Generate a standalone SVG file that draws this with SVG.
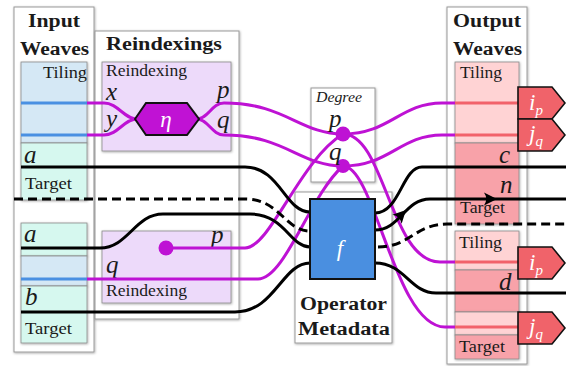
<svg xmlns="http://www.w3.org/2000/svg" width="566" height="366" viewBox="0 0 566 366">
<defs>
<filter id="sh" x="-10%" y="-10%" width="120%" height="120%"><feDropShadow dx="0.6" dy="0.8" stdDeviation="0.8" flood-color="#000" flood-opacity="0.35"/></filter>
<path id="arr" d="M0,0 L-13,-6.5 Q-8.5,0 -13,6.5 Z" fill="#000"/>
<style>
.box{fill:#fff;stroke:#9a9a9a;stroke-width:1;filter:url(#sh)}
.sub{stroke:#8a8a8a;stroke-width:0.8;filter:url(#sh)}
.t{font-family:"Liberation Serif","DejaVu Serif",serif;fill:#1a1a1a}
.title{font-weight:bold;font-size:18px}
.lab{font-size:16px}
.var{font-style:italic;font-size:25px}
.w{fill:none;stroke:#000;stroke-width:3}
.m{fill:none;stroke:#BE12D4;stroke-width:3}
.blue{fill:#D5E8F5}
.teal{fill:#D6F8EF}
.lav{fill:#EDDAFA}
.lp{fill:#FFD3D4}
.dp{fill:#F8A2A9}
.bl{stroke:#4A90E2;stroke-width:3}
.rl{stroke:#F2626A;stroke-width:3}
.tag{fill:#F0636A;stroke:#111;stroke-width:1.6}
.tagt{font-family:"Liberation Serif","DejaVu Serif",serif;font-style:italic;fill:#fff;font-size:23px}
</style>
</defs>
<rect width="566" height="366" fill="#fff"/>

<!-- outer frames -->
<g id="input-weaves-frame">
<rect class="box" x="14" y="7" width="80" height="345"/>
<text class="t title" x="54" y="27" text-anchor="middle" textLength="52" lengthAdjust="spacingAndGlyphs">Input</text>
<text class="t title" x="54.5" y="55" text-anchor="middle" textLength="69" lengthAdjust="spacingAndGlyphs">Weaves</text>
</g>
<g id="reindexings-frame">
<rect class="box" x="95" y="31" width="144" height="288"/>
<text class="t title" x="164" y="50" text-anchor="middle" textLength="116" lengthAdjust="spacingAndGlyphs">Reindexings</text>
</g>
<g id="output-weaves-frame">
<rect class="box" x="447" y="7" width="80" height="357"/>
<text class="t title" x="487" y="27" text-anchor="middle" textLength="68" lengthAdjust="spacingAndGlyphs">Output</text>
<text class="t title" x="487.5" y="55" text-anchor="middle" textLength="69" lengthAdjust="spacingAndGlyphs">Weaves</text>
</g>
<g id="degree">
<rect class="box" x="311" y="88" width="64" height="94"/>
<text class="t" x="316" y="102" font-style="italic" font-size="15" textLength="46" lengthAdjust="spacingAndGlyphs">Degree</text>
</g>
<g id="operator-metadata">
<rect class="box" x="295" y="192" width="97" height="151"/>
<text class="t title" x="343.5" y="310" text-anchor="middle" textLength="87" lengthAdjust="spacingAndGlyphs">Operator</text>
<text class="t title" x="344" y="335" text-anchor="middle" textLength="92" lengthAdjust="spacingAndGlyphs">Metadata</text>
</g>

<!-- input weave 1 -->
<g id="input-weave-1">
<rect class="sub blue" x="21" y="62" width="66" height="81"/>
<rect class="sub teal" x="21" y="143" width="66" height="57"/>
<text class="t lab" x="43" y="78" textLength="44" lengthAdjust="spacingAndGlyphs">Tiling</text>
<text class="t lab" x="25" y="189" textLength="47" lengthAdjust="spacingAndGlyphs">Target</text>
<line class="bl" x1="21" y1="103" x2="87" y2="103"/>
<line class="bl" x1="21" y1="135" x2="87" y2="135"/>
<text class="t var" x="24" y="163">a</text>
</g>
<!-- input weave 2 -->
<g id="input-weave-2">
<rect class="sub teal" x="21" y="223" width="66" height="33"/>
<rect class="sub blue" x="21" y="256" width="66" height="30"/>
<rect class="sub teal" x="21" y="286" width="66" height="57"/>
<text class="t lab" x="25" y="334" textLength="47" lengthAdjust="spacingAndGlyphs">Target</text>
<line class="bl" x1="21" y1="279" x2="87" y2="279"/>
<text class="t var" x="24" y="242">a</text>
<text class="t var" x="25" y="305">b</text>
</g>

<!-- reindexing boxes -->
<g id="reindexing-1">
<rect class="sub lav" x="102" y="62" width="129" height="89"/>
<text class="t lab" x="106" y="76" textLength="81" lengthAdjust="spacingAndGlyphs">Reindexing</text>
<text class="t var" x="106" y="99.5" font-size="22">x</text>
<text class="t var" x="106" y="127">y</text>
<text class="t var" x="217" y="98">p</text>
<text class="t var" x="217" y="128">q</text>
</g>
<g id="reindexing-2">
<rect class="sub lav" x="102" y="231" width="129" height="72"/>
<text class="t lab" x="106" y="296" textLength="81" lengthAdjust="spacingAndGlyphs">Reindexing</text>
<text class="t var" x="211" y="243">p</text>
<text class="t var" x="106" y="273">q</text>
</g>

<!-- output weaves -->
<g id="output-weave-1">
<rect class="sub lp" x="455" y="62" width="64" height="81"/>
<rect class="sub dp" x="455" y="143" width="64" height="81"/>
<text class="t lab" x="460" y="78" textLength="42" lengthAdjust="spacingAndGlyphs">Tiling</text>
<text class="t lab" x="460" y="213" textLength="45" lengthAdjust="spacingAndGlyphs">Target</text>
<line class="rl" x1="455" y1="103" x2="519" y2="103"/>
<line class="rl" x1="455" y1="135" x2="519" y2="135"/>
<text class="t var" x="499" y="163">c</text>
<text class="t var" x="500" y="193">n</text>
</g>
<g id="output-weave-2">
<rect class="sub lp" x="455" y="231" width="64" height="39"/>
<rect class="sub dp" x="455" y="270" width="64" height="42"/>
<rect class="sub lp" x="455" y="312" width="64" height="23"/>
<rect class="sub dp" x="455" y="335" width="64" height="24"/>
<text class="t lab" x="459" y="248" textLength="43" lengthAdjust="spacingAndGlyphs">Tiling</text>
<text class="t lab" x="459" y="352" textLength="46" lengthAdjust="spacingAndGlyphs">Target</text>
<line class="rl" x1="455" y1="262" x2="519" y2="262"/>
<line class="rl" x1="455" y1="327" x2="519" y2="327"/>
<text class="t var" x="499" y="290">d</text>
</g>

<!-- connectors -->
<g id="connectors">
<path class="m" d="M87,103 H104 C118,103 124,119 137,119"/>
<path class="m" d="M87,135 H104 C118,135 124,119 137,119"/>
<path class="m" d="M197,119 C208,119 212,103 224,103 C285,103 300,134 343,134"/>
<path class="m" d="M197,119 C208,119 212,135 224,135 C285,135 300,166 343,166"/>
<path class="m" d="M343,134 C390,134 400,103 442,103 H455"/>
<path class="m" d="M343,166 C390,166 400,135 442,135 H455"/>
<path class="m" d="M343,134 C385,134 390,262 440,262 H455"/>
<path class="m" d="M343,166 C375,166 395,327 445,327 H455"/>
<path class="m" d="M166,248 H245 C270,248 300,160 343,134"/>
<path class="m" d="M87,279 H258 C285,279 310,195 343,166"/>

<path class="w" d="M21,167 H245 C280,167 285,212 310,212"/>
<path class="w" d="M14,199 H245 C280,199 285,231 310,231" stroke-dasharray="9 5"/>
<path class="w" d="M21,248 H100 C128,248 135,214 163,214 H250 C285,214 290,247 310,247"/>
<path class="w" d="M21,312 H235 C275,312 282,263 310,263"/>

<path class="w" d="M375,213 C400,213 402,167 422,167 H566"/>
<path class="w" d="M375,230 C400,230 405,199 430,199 H566" stroke-width="4.5"/>
<use href="#arr" transform="translate(406,210) rotate(-46)"/>
<use href="#arr" transform="translate(497,199)"/>
<path class="w" d="M378,247 C410,247 415,224 447,224 H566" stroke-dasharray="9 5"/>
<path class="w" d="M375,263 C405,263 410,293 436,293 H566"/>
</g>

<!-- nodes on top -->
<g id="eta">
<polygon points="135,119 146,103 187,103 199,119 187,135 146,135" fill="#C012D4" stroke="#111" stroke-width="2"/>
<text class="tagt" x="166" y="127" text-anchor="middle" font-size="25">η</text>
</g>
<g id="reindex-dot"><circle cx="166" cy="248" r="7.5" fill="#BE12D4"/></g>
<g id="degree-dots">
<circle cx="343" cy="134" r="7.5" fill="#BE12D4"/>
<circle cx="343" cy="166" r="7" fill="#BE12D4"/>
<text class="t var" x="329" y="127">p</text>
<text class="t var" x="329" y="160">q</text>
</g>
<g id="f-op">
<rect x="310" y="199" width="65" height="80" fill="#4A8FE0" stroke="#111" stroke-width="2"/>
<text class="tagt" x="340" y="256" text-anchor="middle" font-size="42">f</text>
</g>
<g id="tags">
<polygon class="tag" points="518,87 552,87 565,103 552,119 518,119"/>
<polygon class="tag" points="518,119 552,119 565,135 552,151 518,151"/>
<polygon class="tag" points="518,247 552,247 565,263 552,279 518,279"/>
<polygon class="tag" points="518,312 552,312 565,328 552,344 518,344"/>
<text class="tagt" x="529" y="110">i<tspan font-size="15" dy="5">p</tspan></text>
<text class="tagt" x="529" y="141">j<tspan font-size="15" dy="5">q</tspan></text>
<text class="tagt" x="529" y="270">i<tspan font-size="15" dy="5">p</tspan></text>
<text class="tagt" x="529" y="334">j<tspan font-size="15" dy="5">q</tspan></text>
</g>
</svg>
